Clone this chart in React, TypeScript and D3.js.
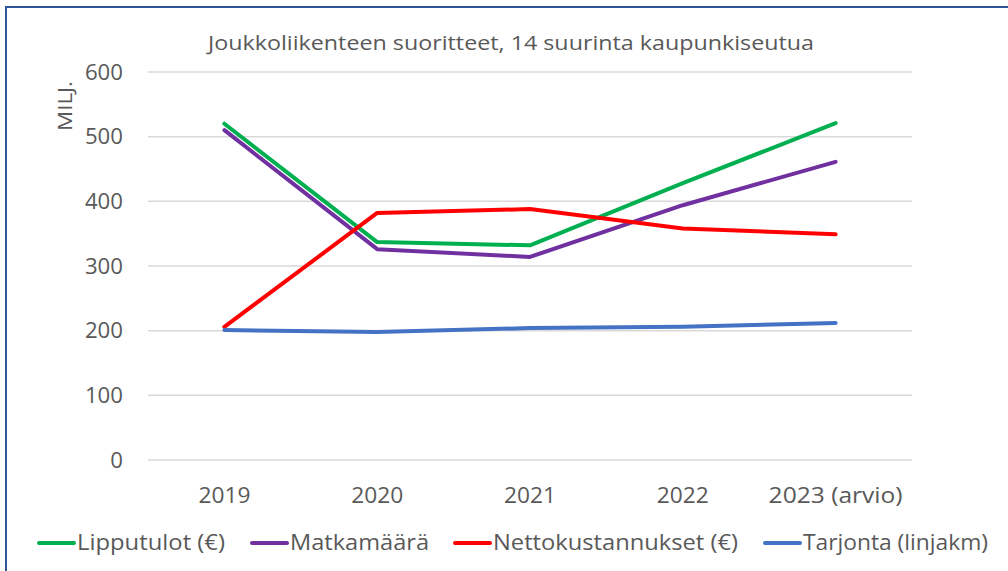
import * as d3 from "d3";

const years = ["2019", "2020", "2021", "2022", "2023 (arvio)"];
const lipputulot = [520, 337, 332, 428, 521];
const matkamaara = [510, 326, 314, 394, 461];
const nettokustannukset = [206, 382, 388, 358, 349];
const tarjonta = [201, 198, 204, 206, 212];
const yTicks = [0, 100, 200, 300, 400, 500, 600];

const series = [
  { name: "Lipputulot (€)", values: lipputulot, color: "#00B050" },
  { name: "Matkamäärä", values: matkamaara, color: "#7030A0" },
  { name: "Nettokustannukset (€)", values: nettokustannukset, color: "#FF0000" },
  { name: "Tarjonta (linjakm)", values: tarjonta, color: "#4472C4" },
];

// legend text widths (Calibri is narrower than what we have)
const legendWidth = [148, 139, 245, 185];
const legendX = [39, 252, 455, 765];

const FONT = "'Open Sans', sans-serif";
const GREY = "#595959";

export default function App() {
  const width = 1008;
  const height = 571;
  const left = 148;
  const right = 912;
  const top = 72;
  const bottom = 460;

  const x = d3.scaleBand<string>().domain(years).range([left, right]);
  const y = d3.scaleLinear().domain([0, 600]).range([bottom, top]);
  const cx = (d: string) => (x(d) ?? 0) + x.bandwidth() / 2;

  const line = d3
    .line<number>()
    .x((_, i) => cx(years[i]))
    .y((v) => y(v));

  return (
    <svg
      width={width}
      height={height}
      style={{ position: "absolute", left: 0, top: 0, background: "#fff" }}
      fontFamily={FONT}
    >
      <rect x={6} y={7} width={1010} height={580} fill="#fff" stroke="#2F5597" strokeWidth={2} />

      <text x={511} y={50} textAnchor="middle" fontSize={20} fill={GREY} textLength={606} lengthAdjust="spacingAndGlyphs">
        Joukkoliikenteen suoritteet, 14 suurinta kaupunkiseutua
      </text>

      <text
        transform={`translate(72,106) rotate(-90)`}
        textAnchor="middle"
        fontSize={20}
        fill={GREY}
        textLength={50}
        lengthAdjust="spacingAndGlyphs"
      >
        MILJ.
      </text>

      {yTicks.map((t) => (
        <g key={t}>
          <line x1={left} x2={right} y1={y(t)} y2={y(t)} stroke="#D9D9D9" strokeWidth={1.5} />
          <text
            x={123}
            y={y(t) + 7.5}
            textAnchor="end"
            fontSize={21}
            fill={GREY}
            textLength={String(t).length * 12.7}
            lengthAdjust="spacingAndGlyphs"
          >
            {t}
          </text>
        </g>
      ))}

      {years.map((yr) => (
        <text
          key={yr}
          x={cx(yr)}
          y={503}
          textAnchor="middle"
          fontSize={21}
          fill={GREY}
          textLength={yr.length > 4 ? 134 : 52}
          lengthAdjust="spacingAndGlyphs"
        >
          {yr}
        </text>
      ))}

      {series.map((s) => (
        <path
          key={s.name}
          d={line(s.values) ?? ""}
          fill="none"
          stroke={s.color}
          strokeWidth={4}
          strokeLinejoin="round"
          strokeLinecap="round"
        />
      ))}

      {series.map((s, i) => (
        <g key={s.name} transform={`translate(${legendX[i]},543)`}>
          <line x1={0} x2={35} y1={0} y2={0} stroke={s.color} strokeWidth={4} strokeLinecap="round" />
          <text x={38} y={7} fontSize={21} fill={GREY} textLength={legendWidth[i]} lengthAdjust="spacingAndGlyphs">
            {s.name}
          </text>
        </g>
      ))}
    </svg>
  );
}
